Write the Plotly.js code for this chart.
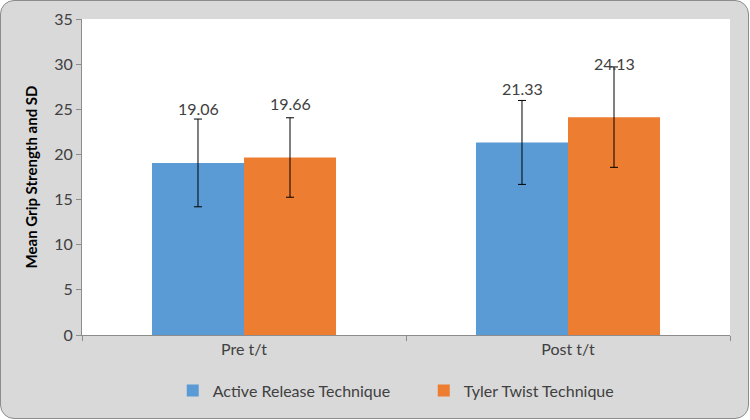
<!DOCTYPE html>
<html>
<head>
<meta charset="utf-8">
<script src="https://cdn.plot.ly/plotly-3.0.1.min.js"></script>
<style>
html,body{margin:0;padding:0;background:#ffffff;}
#frame{position:absolute;left:0;top:0;width:747px;height:417px;border:1px solid #8c8c8c;border-radius:14px;background:#d9d9d9;overflow:hidden;}
#chart{position:absolute;left:-1px;top:-1px;width:750px;height:420px;}
</style>
</head>
<body>
<div id="frame"><div id="chart"></div></div>
<script>
const categories = ["Pre t/t", "Post t/t"];
const seriesNames = ["Active Release Technique", "Tyler Twist Technique"];
const activeRelease = [19.06, 21.33];
const tylerTwist = [19.66, 24.13];
const activeReleaseSD = [4.86, 4.65];
const tylerTwistSD = [4.4, 5.56];
const yTicks = [0, 5, 10, 15, 20, 25, 30, 35];

const FONT = "Lato, 'Open Sans', sans-serif";

const err = (arr) => ({type: 'data', array: arr, visible: true, color: '#000000', thickness: 1, width: 4});

const traces = [
  {type: 'bar', name: seriesNames[0], x: categories, y: activeRelease,
   marker: {color: '#5b9bd5'}, error_y: err(activeReleaseSD), hoverinfo: 'y'},
  {type: 'bar', name: seriesNames[1], x: categories, y: tylerTwist,
   marker: {color: '#ed7d31'}, error_y: err(tylerTwistSD), hoverinfo: 'y'}
];

const annotations = [];
[activeRelease, tylerTwist].forEach((vals, si) => {
  vals.forEach((v, ci) => {
    annotations.push({
      x: categories[ci], y: v, xref: 'x', yref: 'y',
      text: v.toFixed(2), showarrow: false,
      xshift: si === 0 ? -46 : 46, yshift: 54,
      font: {family: FONT, size: 16, color: '#404040'}
    });
  });
});

const layout = {
  width: 750, height: 420,
  paper_bgcolor: 'rgba(0,0,0,0)',
  plot_bgcolor: '#ffffff',
  margin: {l: 82, r: 20, t: 19, b: 85, autoexpand: false},
  barmode: 'group',
  bargap: 0.432,
  bargroupgap: 0,
  showlegend: true,
  legend: {orientation: 'h', xref: 'container', yref: 'container',
    x: 0.565, xanchor: 'center', y: 0.07, yanchor: 'middle',
    font: {family: FONT, size: 16, color: '#404040'},
    entrywidth: 206, entrywidthmode: 'pixels', itemwidth: 30,
    bgcolor: 'rgba(0,0,0,0)'},
  xaxis: {
    type: 'category',
    showline: true, linecolor: '#8c8c8c', linewidth: 1,
    ticks: 'outside', tickson: 'boundaries', ticklen: 5, tickcolor: '#8c8c8c',
    tickfont: {family: FONT, size: 16, color: '#404040'},
    showgrid: false, zeroline: false
  },
  yaxis: {
    range: [0, 35], tickvals: yTicks,
    showline: true, linecolor: '#8c8c8c', linewidth: 1,
    ticks: 'outside', ticklen: 5, tickcolor: '#8c8c8c',
    tickfont: {family: FONT, size: 16, color: '#404040'},
    showgrid: false, zeroline: false,
    title: {text: '<b>Mean Grip Strength and SD</b>', font: {family: FONT, size: 15, color: '#000000'}, standoff: 12}
  },
  annotations: annotations
};

Plotly.newPlot('chart', traces, layout, {displayModeBar: false, staticPlot: true});
</script>
</body>
</html>
